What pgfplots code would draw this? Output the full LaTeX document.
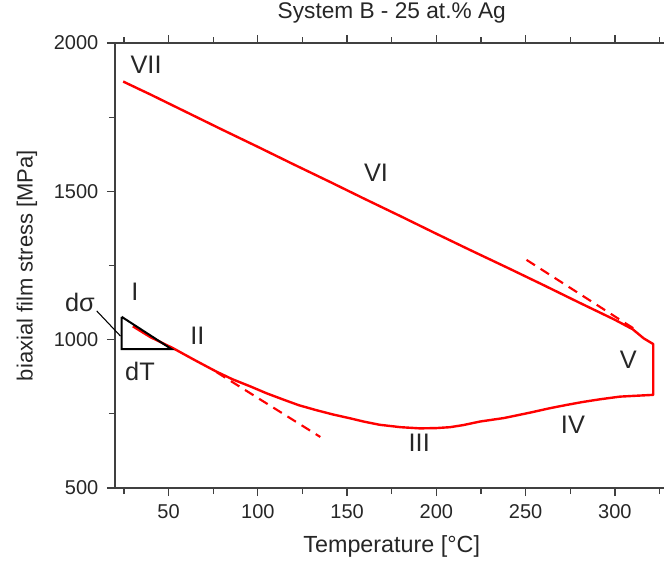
\documentclass[border=0pt]{standalone}
\usepackage{fontspec}
\setmainfont{Liberation Sans}
\usepackage{pgfplots}
\pgfplotsset{compat=1.18}
\definecolor{txt}{HTML}{262626}
\definecolor{axgray}{HTML}{404040}
\begin{document}
\begin{tikzpicture}
\begin{axis}[
  at={(0,0)}, anchor=south west,
  width=415.1pt, height=333.75pt, scale only axis,
  xmin=20, xmax=330, ymin=500, ymax=2000,
  xtick={50,100,...,300}, minor xtick={25,75,...,325},
  ytick={500,1000,1500,2000}, minor ytick={750,1250,1750},
  tick align=outside, xtick pos=both, xticklabel pos=lower, ytick pos=left,
  major tick length=6pt, minor tick length=4.5pt,
  every tick/.style={line width=0.9pt, color=axgray},
  axis line style={line width=1pt, color=axgray},
  tick label style={font=\fontsize{15}{17}\selectfont, text=txt},
  xticklabel style={yshift=-3pt},
  yticklabel style={xshift=-3pt},
  /pgf/number format/assume math mode=true,
  /pgf/number format/set thousands separator={},
  xlabel={Temperature [°C]}, ylabel={biaxial film stress [MPa]},
  xlabel style={font=\fontsize{17.5}{19}\selectfont, text=txt,
    at={(axis description cs:0.5,0)}, anchor=center, yshift=-43.5pt},
  ylabel style={font=\fontsize{16.5}{18}\selectfont, text=txt,
    at={(axis description cs:-0.159,0.5)}, anchor=center},
  title={System B - 25 at.\% Ag},
  title style={font=\fontsize{17}{19}\selectfont, text=txt,
    at={(axis description cs:0.5,1)}, anchor=center, yshift=16.5pt},
  clip=false,
]
% heating (I-V) and cooling (VI-VII) curve
\addplot[red, line width=1.8pt, line join=round] coordinates {
 (30,1045) (40,1008) (52.6,971) (65,930) (76.9,892) (86,866) (95.6,843)
 (105,819) (114.3,798) (123,779) (133,762) (142,748) (151.6,735)
 (160,723) (168.4,713) (180,705) (190.8,701) (200,702) (207.6,705)
 (215,712) (224.4,724) (238,736) (252.4,754) (263.6,769) (272.9,780)
 (282,790) (291.6,799) (302.8,808) (312,811) (321.5,814)
 (321.5,985) (316,1005) (310,1035) (300,1067) (280,1125) (260,1184)
 (240,1242) (220,1299) (200,1357) (180,1416) (160,1474) (140,1533)
 (120,1591) (100,1650) (80,1708) (60,1767) (40,1826) (24.6,1870)
};
% tangents
\addplot[red, line width=1.6pt, dash pattern=on 7.5pt off 5pt] coordinates {(77,890) (135,672)};
\addplot[red, line width=1.6pt, dash pattern=on 7.5pt off 5pt] coordinates {(250.5,1269) (312,1032)};
% slope triangle
\addplot[black, line width=1.5pt] coordinates {(23.75,1077) (23.75,968) (51.7,968) (23.75,1077)};
\addplot[black, line width=0.8pt] coordinates {(9.75,1097) (23.1,1012)};
% labels
\begin{scope}[every node/.style={font=\fontsize{19}{21}\selectfont, text=txt}]
\node at (axis cs:37.4,1926) {VII};
\node at (axis cs:166.2,1563) {VI};
\node at (axis cs:31.2,1162) {I};
\node at (axis cs:66.1,1013) {II};
\node at (axis cs:190.4,653) {III};
\node at (axis cs:276.5,713) {IV};
\node at (axis cs:307.5,932) {V};
\node at (axis cs:0.4,1127) {dσ};
\node at (axis cs:34,892) {dT};
\end{scope}
\end{axis}
\pgfresetboundingbox
\path[use as bounding box] (-86.25pt,-55.5pt) rectangle (411.75pt,366pt);
\end{tikzpicture}
\end{document}
